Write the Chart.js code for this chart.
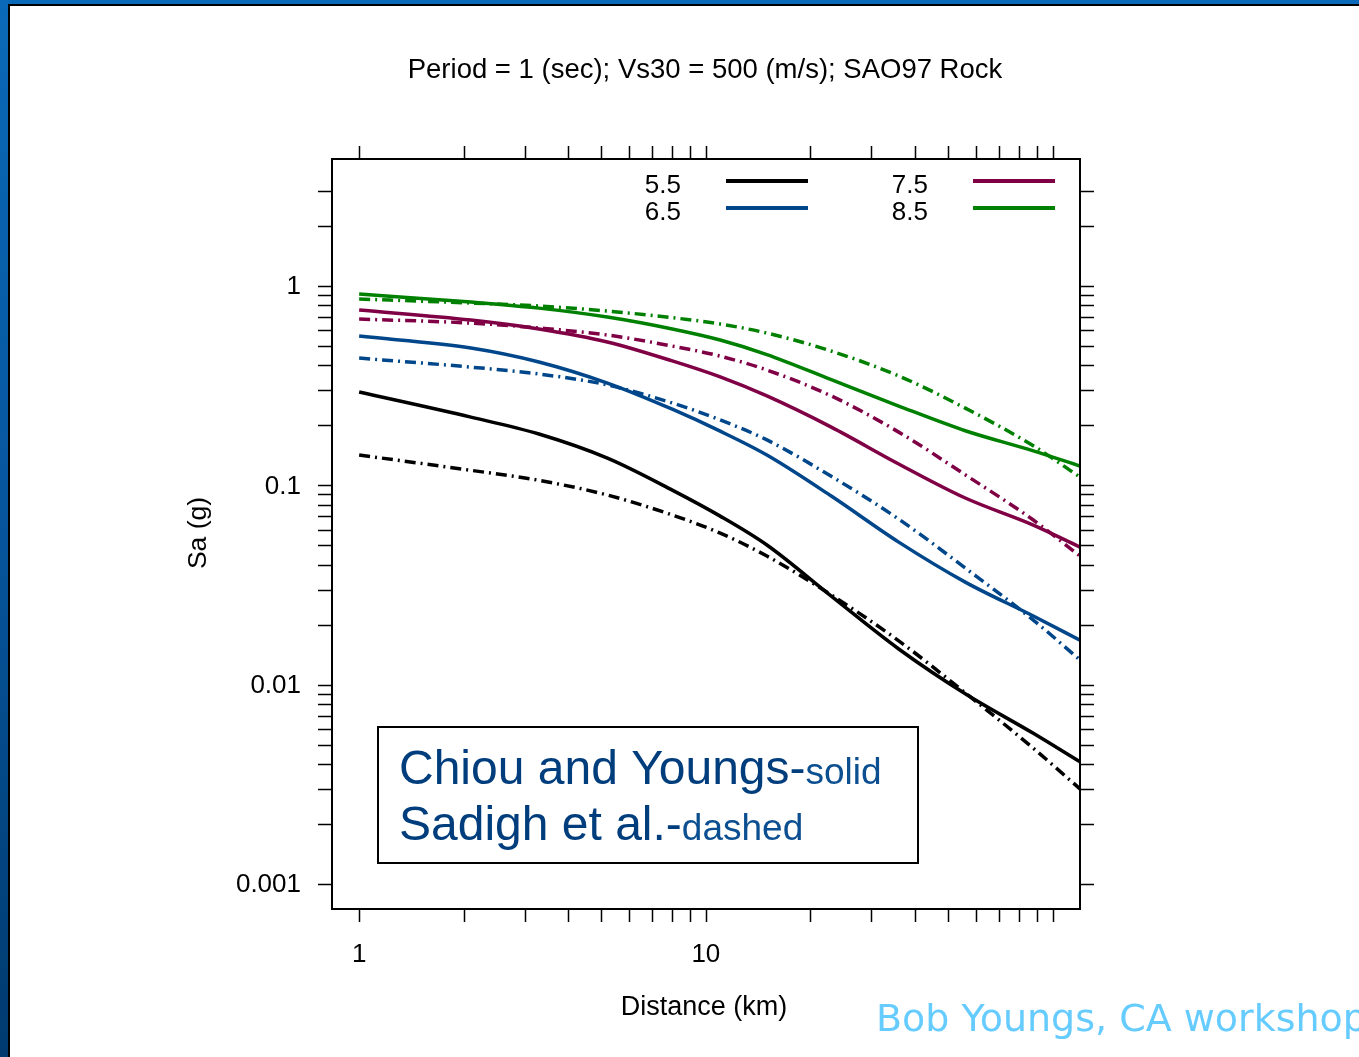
<!DOCTYPE html>
<html>
<head>
<meta charset="utf-8">
<script src="https://cdn.jsdelivr.net/npm/chart.js@4"></script>
<style>
  html, body { margin: 0; padding: 0; width: 1359px; height: 1057px; overflow: hidden; }
  body { background: linear-gradient(to bottom, #0a69b8, #06559c 50%, #003a6f); position: relative; }
  #panel { position: absolute; left: 8px; top: 4px; right: 0; bottom: 0; background: #fff;
           border-left: 2px solid #000; border-top: 2px solid #000; }
  #chart-sa { position: absolute; left: 0; top: 0; }
</style>
</head>
<body>
<div id="panel"></div>
<canvas id="chart-sa" width="1359" height="1057"></canvas>
<script>
// distances (km) and spectral acceleration (g), T = 1 s, Vs30 = 500 m/s
const distanceKm = [1, 2.1, 3.3, 5.2, 8, 11, 15, 23, 36, 56, 88, 120];
const magnitudes = ["5.5", "6.5", "7.5", "8.5"];
const colors = ["#000000", "#00468a", "#800045", "#008000"];

// Chiou and Youngs (solid)
const cy55 = [0.294, 0.220, 0.181, 0.137, 0.0947, 0.0701, 0.0502, 0.0278, 0.0151, 0.0090, 0.0057, 0.0041];
const cy65 = [0.561, 0.489, 0.416, 0.326, 0.241, 0.187, 0.142, 0.0884, 0.0519, 0.0327, 0.0221, 0.0167];
const cy75 = [0.758, 0.675, 0.609, 0.524, 0.421, 0.350, 0.281, 0.196, 0.128, 0.0864, 0.0632, 0.0490];
const cy85 = [0.912, 0.831, 0.775, 0.699, 0.609, 0.536, 0.453, 0.339, 0.250, 0.188, 0.149, 0.125];

// Sadigh et al. (dash-dot)
const sadigh55 = [0.142, 0.119, 0.106, 0.0894, 0.0710, 0.0576, 0.0442, 0.0282, 0.0166, 0.0091, 0.0048, 0.0030];
const sadigh65 = [0.435, 0.392, 0.362, 0.319, 0.259, 0.213, 0.169, 0.111, 0.0677, 0.0385, 0.0211, 0.0133];
const sadigh75 = [0.683, 0.652, 0.616, 0.568, 0.500, 0.445, 0.379, 0.281, 0.185, 0.113, 0.067, 0.0442];
const sadigh85 = [0.861, 0.822, 0.794, 0.749, 0.694, 0.645, 0.581, 0.472, 0.354, 0.244, 0.158, 0.110];

// axis ticks
const xTickValues = [1, 2, 3, 4, 5, 6, 7, 8, 9, 10, 20, 30, 40, 50, 60, 70, 80, 90, 100];
const xTickLabels = [1, 10];
const yTickValues = [0.001, 0.002, 0.003, 0.004, 0.005, 0.006, 0.007, 0.008, 0.009,
                     0.01, 0.02, 0.03, 0.04, 0.05, 0.06, 0.07, 0.08, 0.09,
                     0.1, 0.2, 0.3, 0.4, 0.5, 0.6, 0.7, 0.8, 0.9, 1, 2, 3];
const yTickLabels = [1, 0.1, 0.01, 0.001];

const FONT = "'Liberation Sans', Arial, sans-serif";

function points(values) {
  return distanceKm.map((d, i) => ({ x: d, y: values[i] }));
}

const solidSets = [cy55, cy65, cy75, cy85];
const dashSets = [sadigh55, sadigh65, sadigh75, sadigh85];
const datasets = [];
magnitudes.forEach((m, i) => {
  datasets.push({
    label: "M" + m + " CY",
    data: points(solidSets[i]),
    borderColor: colors[i],
    borderWidth: 3.5,
  });
  datasets.push({
    label: "M" + m + " Sadigh",
    data: points(dashSets[i]),
    borderColor: colors[i],
    borderWidth: 3.5,
    borderDash: [11, 5, 2, 5],
  });
});

// frame, ticks, labels, key and notes
const decorations = {
  id: "decorations",
  afterDraw(chart) {
    const { ctx, chartArea: a, scales: { x, y } } = chart;
    ctx.save();

    // box
    ctx.strokeStyle = "#000";
    ctx.lineWidth = 2;
    ctx.strokeRect(a.left, a.top, a.right - a.left, a.bottom - a.top);

    // ticks on all four sides
    ctx.lineWidth = 1.5;
    ctx.beginPath();
    xTickValues.forEach((v) => {
      const px = Math.round(x.getPixelForValue(v)) + 0.5;
      ctx.moveTo(px, a.bottom); ctx.lineTo(px, a.bottom + 13);
      ctx.moveTo(px, a.top); ctx.lineTo(px, a.top - 13);
    });
    yTickValues.forEach((v) => {
      const py = Math.round(y.getPixelForValue(v)) + 0.5;
      ctx.moveTo(a.left, py); ctx.lineTo(a.left - 14, py);
      ctx.moveTo(a.right, py); ctx.lineTo(a.right + 14, py);
    });
    ctx.stroke();

    ctx.fillStyle = "#000";
    ctx.font = "26px " + FONT;
    ctx.textBaseline = "middle";
    ctx.textAlign = "center";
    xTickLabels.forEach((v) => {
      ctx.fillText(String(v), x.getPixelForValue(v), a.bottom + 46);
    });
    ctx.textAlign = "right";
    yTickLabels.forEach((v) => {
      ctx.fillText(String(v), a.left - 31, y.getPixelForValue(v) + 1);
    });

    // titles
    ctx.textAlign = "center";
    ctx.font = "27px " + FONT;
    ctx.fillText("Distance (km)", 704, 1008);
    ctx.font = "27.5px " + FONT;
    ctx.fillText("Period = 1 (sec); Vs30 = 500 (m/s); SAO97 Rock", 705, 70);
    ctx.font = "26.5px " + FONT;
    ctx.save();
    ctx.translate(199, 533);
    ctx.rotate(-Math.PI / 2);
    ctx.fillText("Sa (g)", 0, 0);
    ctx.restore();

    // magnitude key
    ctx.font = "26px " + FONT;
    const keyPos = [[681, 186], [681, 213], [928, 186], [928, 213]];
    magnitudes.forEach((m, i) => {
      const [tx, ty] = keyPos[i];
      ctx.fillStyle = "#000";
      ctx.textAlign = "right";
      ctx.fillText(m, tx, ty);
      ctx.strokeStyle = colors[i];
      ctx.lineWidth = 4;
      ctx.beginPath();
      ctx.moveTo(tx + 45, ty - 5);
      ctx.lineTo(tx + 127, ty - 5);
      ctx.stroke();
    });

    // model note
    ctx.fillStyle = "#fff";
    ctx.fillRect(378, 727, 540, 136);
    ctx.strokeStyle = "#000";
    ctx.lineWidth = 2;
    ctx.strokeRect(378, 727, 540, 136);
    ctx.textAlign = "left";
    ctx.textBaseline = "alphabetic";
    ctx.font = "48px " + FONT;
    ctx.fillStyle = "#003d7c";
    ctx.fillText("Chiou and Youngs-", 399, 784);
    const w1 = ctx.measureText("Chiou and Youngs-").width;
    ctx.fillText("Sadigh et al.-", 399, 840);
    const w2 = ctx.measureText("Sadigh et al.-").width;
    ctx.font = "37px " + FONT;
    ctx.fillStyle = "#0b4f90";
    ctx.fillText("solid", 399 + w1, 784);
    ctx.fillText("dashed", 399 + w2, 840);

    // credit
    ctx.font = "38px 'DejaVu Sans', Verdana, sans-serif";
    ctx.fillStyle = "#66ccff";
    ctx.fillText("Bob Youngs, CA workshop", 876, 1031);

    ctx.restore();
  },
};

const chartSa = new Chart(document.getElementById("chart-sa").getContext("2d"), {
  type: "line",
  data: { datasets: datasets },
  options: {
    responsive: false,
    animation: false,
    devicePixelRatio: 1,
    layout: { padding: { left: 332, right: 279, top: 159, bottom: 148 } },
    elements: {
      point: { radius: 0 },
      line: { cubicInterpolationMode: "monotone", fill: false },
    },
    plugins: {
      legend: { display: false },
      title: { display: false },
      tooltip: { enabled: false },
    },
    scales: {
      x: { type: "logarithmic", min: 0.835, max: 120, bounds: "data", display: false },
      y: { type: "logarithmic", min: 0.000749, max: 4.34, bounds: "data", display: false },
    },
  },
  plugins: [decorations],
});
</script>
</body>
</html>
